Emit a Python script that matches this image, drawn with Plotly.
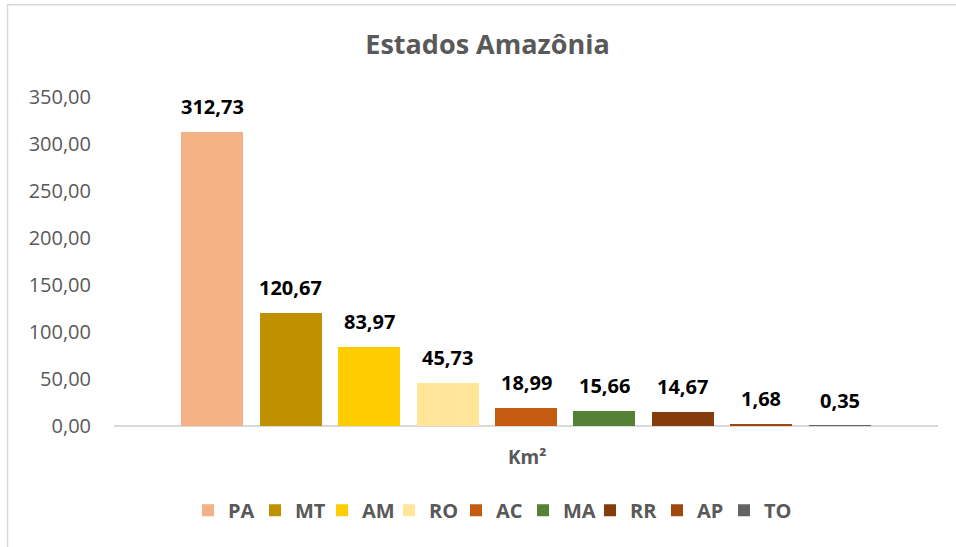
import plotly.graph_objects as go

states = ["PA", "MT", "AM", "RO", "AC", "MA", "RR", "AP", "TO"]
areas = [312.73, 120.67, 83.97, 45.73, 18.99, 15.66, 14.67, 1.68, 0.35]
colors = ["#F4B183", "#BF9000", "#FFCC00", "#FFE699", "#C55A11",
          "#538135", "#843C0C", "#9E480E", "#636363"]
y_ticks = [0, 50, 100, 150, 200, 250, 300, 350]
title_text = "Estados Amazônia"
x_title = "Km²"

FONT = "Open Sans"
GRAY = "#595959"

W, H = 956, 547
L, R = 114, 18
T = 97
B = H - 426.5
pw, ph = W - L - R, H - T - B
zero_px = H - B


def py(p):
    return (zero_px - p) / ph


def px(p):
    return (p - L) / pw


fig = go.Figure()
for i, (s, v, c) in enumerate(zip(states, areas, colors)):
    fig.add_trace(go.Bar(
        x=[i], y=[v], name="<b>%s</b>" % s,
        marker=dict(color=c, line=dict(width=0)),
        width=0.79, showlegend=True, hoverinfo="skip",
    ))
    fig.add_annotation(
        x=i, y=v, xref="x", yref="y",
        text="<b>%s</b>" % f"{v:.2f}".replace(".", ","),
        showarrow=False, yanchor="bottom", yshift=10,
        font=dict(family=FONT, size=20, color="#000000"),
    )

fig.add_annotation(
    x=px(527), y=py(458), xref="paper", yref="paper",
    text="<b>%s</b>" % x_title, showarrow=False,
    xanchor="center", yanchor="middle",
    font=dict(family=FONT, size=19, color=GRAY),
)

fig.add_shape(
    type="rect", xref="paper", yref="paper", layer="below",
    x0=px(7.5), x1=px(975), y0=py(570), y1=py(4.5),
    line=dict(color="#D9D9D9", width=1.5), fillcolor="rgba(0,0,0,0)",
)

fig.update_layout(
    width=W, height=H,
    margin=dict(l=L, r=R, t=T, b=B, pad=0),
    paper_bgcolor="white", plot_bgcolor="white",
    separators=",.",
    title=dict(text="<b>%s</b>" % title_text, x=487.5 / W,
               xanchor="center", y=1 - 45 / H, yanchor="middle",
               yref="container",
               font=dict(family=FONT, size=27, color=GRAY)),
    font=dict(family=FONT, color=GRAY),
    bargap=0, barmode="overlay",
    xaxis=dict(range=[-1.255, 9.255], showticklabels=False, ticks="",
               showgrid=False, zeroline=False, showline=False,
               fixedrange=True),
    yaxis=dict(range=[0, 350], tickvals=y_ticks, tickformat=".2f",
               showgrid=False, zeroline=True, zerolinecolor="#D9D9D9",
               zerolinewidth=2, showline=False, ticks="",
               ticklabelstandoff=22, fixedrange=True,
               tickfont=dict(family=FONT, size=20, color=GRAY)),
    legend=dict(orientation="h", x=px(188), xanchor="left",
                y=py(511), yanchor="middle",
                font=dict(family=FONT, size=20, color=GRAY),
                itemwidth=30, entrywidth=22, entrywidthmode="pixels",
                tracegroupgap=0, bgcolor="rgba(0,0,0,0)", borderwidth=0),
    showlegend=True,
)

fig.write_html("out.html", config={"displayModeBar": False},
               post_script="document.body.style.margin='0';")
